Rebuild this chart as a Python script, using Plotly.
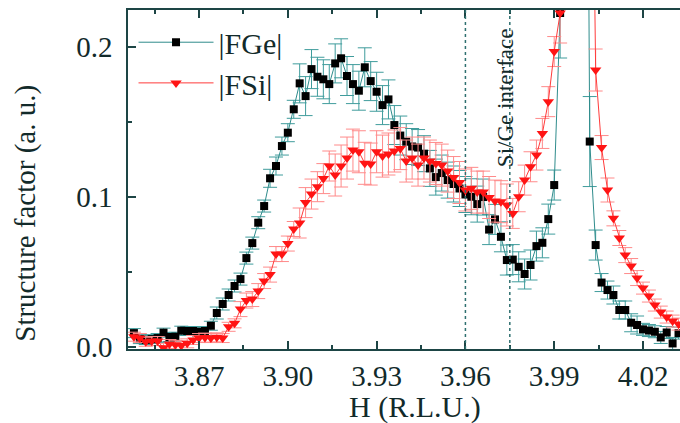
import plotly.graph_objects as go

# H (R.L.U.) sampling positions shared by both scans
H = [3.848, 3.850, 3.852, 3.854, 3.856, 3.858, 3.860, 3.862, 3.864, 3.866,
     3.868, 3.870, 3.872, 3.874, 3.876, 3.878, 3.880, 3.882, 3.884, 3.886,
     3.888, 3.890, 3.892, 3.894, 3.896, 3.898, 3.900, 3.902, 3.904, 3.906,
     3.908, 3.910, 3.912, 3.914, 3.916, 3.918, 3.920, 3.922, 3.924, 3.926,
     3.928, 3.930, 3.932, 3.934, 3.936, 3.938, 3.940, 3.942, 3.944, 3.946,
     3.948, 3.950, 3.952, 3.954, 3.956, 3.958, 3.960, 3.962, 3.964, 3.966,
     3.968, 3.970, 3.972, 3.974, 3.976, 3.978, 3.980, 3.982, 3.984, 3.986,
     3.988, 3.990, 3.992, 3.994, 3.996, 3.998, 4.000, 4.002, 4.004, 4.006,
     4.008, 4.010, 4.012, 4.014, 4.016, 4.018, 4.020, 4.022, 4.024, 4.026,
     4.028, 4.030, 4.032]

FGe = [0.0093, 0.0053, 0.0047, 0.0053, 0.0060, 0.0096, 0.0067, 0.0069, 0.0109, 0.0107,
       0.0107, 0.0102, 0.0107, 0.0142, 0.0227, 0.0287, 0.0347, 0.0407, 0.0453, 0.0593,
       0.0693, 0.0829, 0.0940, 0.1125, 0.1207, 0.1340, 0.1429, 0.1585, 0.1758, 0.1673,
       0.1853, 0.1802, 0.1785, 0.1753, 0.1891, 0.1925, 0.1807, 0.1753, 0.1709, 0.1865,
       0.1773, 0.1702, 0.1613, 0.1651, 0.1480, 0.1410, 0.1369, 0.1337, 0.1330, 0.1289,
       0.1191, 0.1133, 0.1160, 0.1113, 0.1087, 0.1057, 0.1017, 0.1002, 0.0953, 0.1000,
       0.0783, 0.0851, 0.0735, 0.0580, 0.0583, 0.0535, 0.0487, 0.0547, 0.0673, 0.0695,
       0.0853, 0.1080, 0.2227, 0.5000, 1.5000, 2.5000, 0.8000, 0.1370, 0.0680, 0.0430,
       0.0380, 0.0347, 0.0247, 0.0247, 0.0162, 0.0147, 0.0118, 0.0110, 0.0102, 0.0064,
       0.0097, 0.0024, 0.0093]

FGe_err = [0.003, 0.003, 0.003, 0.003, 0.003, 0.003, 0.003, 0.003, 0.003, 0.003,
           0.003, 0.003, 0.003, 0.003, 0.004, 0.004, 0.004, 0.004, 0.004, 0.004,
           0.004, 0.004, 0.004, 0.006, 0.006, 0.006, 0.006, 0.006, 0.013, 0.013,
           0.013, 0.013, 0.013, 0.013, 0.013, 0.013, 0.013, 0.013, 0.013, 0.013,
           0.013, 0.013, 0.013, 0.013, 0.013, 0.013, 0.012, 0.012, 0.012, 0.012,
           0.012, 0.012, 0.012, 0.012, 0.012, 0.012, 0.012, 0.012, 0.012, 0.012,
           0.010, 0.010, 0.010, 0.010, 0.010, 0.010, 0.010, 0.010, 0.010, 0.010,
           0.010, 0.010, 0.030, 0.030, 0.030, 0.030, 0.030, 0.030, 0.010, 0.006,
           0.006, 0.006, 0.006, 0.006, 0.006, 0.006, 0.004, 0.004, 0.004, 0.004,
           0.004, 0.004, 0.004]

FSi = [0.0069, 0.0060, 0.0035, 0.0040, 0.0040, -0.0005, 0.0020, 0.0015, 0.0010, 0.0025,
       0.0047, 0.0060, 0.0063, 0.0060, 0.0065, 0.0060, 0.0135, 0.0158, 0.0253, 0.0310,
       0.0320, 0.0373, 0.0440, 0.0483, 0.0620, 0.0620, 0.0690, 0.0787, 0.0827, 0.0963,
       0.1020, 0.1069, 0.1123, 0.1207, 0.1147, 0.1207, 0.1260, 0.1313, 0.1302, 0.1225,
       0.1220, 0.1302, 0.1273, 0.1287, 0.1307, 0.1323, 0.1240, 0.1260, 0.1213, 0.1260,
       0.1240, 0.1224, 0.1213, 0.1173, 0.1130, 0.1097, 0.1047, 0.1058, 0.1033, 0.1033,
       0.0997, 0.0973, 0.0969, 0.0947, 0.0891, 0.1002, 0.1113, 0.1202, 0.1280, 0.1424,
       0.1636, 0.1970, 0.2227, 0.5000, 1.2000, 2.0000, 1.2000, 0.5000, 0.1847, 0.1330,
       0.1047, 0.0858, 0.0727, 0.0613, 0.0540, 0.0460, 0.0393, 0.0340, 0.0280, 0.0233,
       0.0200, 0.0173, 0.0153]

FSi_err = [0.003, 0.003, 0.003, 0.003, 0.003, 0.003, 0.003, 0.003, 0.003, 0.003,
           0.003, 0.003, 0.003, 0.003, 0.003, 0.003, 0.003, 0.003, 0.005, 0.005,
           0.005, 0.005, 0.005, 0.005, 0.005, 0.005, 0.005, 0.005, 0.010, 0.010,
           0.010, 0.010, 0.010, 0.010, 0.014, 0.014, 0.014, 0.014, 0.014, 0.014,
           0.014, 0.014, 0.014, 0.014, 0.014, 0.014, 0.014, 0.014, 0.014, 0.014,
           0.014, 0.014, 0.014, 0.014, 0.014, 0.014, 0.014, 0.014, 0.014, 0.014,
           0.014, 0.014, 0.014, 0.014, 0.010, 0.010, 0.010, 0.010, 0.010, 0.010,
           0.010, 0.010, 0.020, 0.020, 0.020, 0.020, 0.020, 0.020, 0.014, 0.008,
           0.008, 0.005, 0.005, 0.005, 0.005, 0.005, 0.004, 0.004, 0.004, 0.004,
           0.004, 0.004, 0.004]

x_ticks = [3.87, 3.90, 3.93, 3.96, 3.99, 4.02]
x_ticktext = ["3.87", "3.90", "3.93", "3.96", "3.99", "4.02"]
x_minor = [3.855, 3.885, 3.915, 3.945, 3.975, 4.005]
y_ticks = [0.0, 0.1, 0.2]
y_ticktext = ["0.0", "0.1", "0.2"]
y_minor = [0.05, 0.15]
interface_lines = [3.960, 3.975]

FONT = "Liberation Serif"
TXT = "#122a2a"
AX = "#1d4545"
TEAL = "#2f8c8c"

fig = go.Figure()
fig.add_trace(go.Scatter(
    x=H, y=FGe, mode="lines+markers", name="|FGe|", legend="legend", showlegend=True,
    line=dict(color=TEAL, width=1),
    marker=dict(symbol="square", size=8, color="black"),
    error_y=dict(type="data", array=FGe_err, color="#3f9c9c", thickness=1, width=7),
))
fig.add_trace(go.Scatter(
    x=H, y=FSi, mode="lines+markers", name="|FSi|", legend="legend2", showlegend=True,
    line=dict(color="#ff3b3b", width=1),
    marker=dict(symbol="triangle-down", size=10, color="#ff1414"),
    error_y=dict(type="data", array=FSi_err, color="#ff8a8a", thickness=1, width=7),
))

for xv in interface_lines:
    fig.add_shape(type="line", xref="x", yref="paper", x0=xv, x1=xv, y0=0, y1=1,
                  line=dict(color="#2f7070", width=1.5, dash="dot"))

fig.add_annotation(x=3.9734, y=0.166, xref="x", yref="y", text="Si/Ge interface",
                   textangle=-90, showarrow=False,
                   font=dict(family=FONT, size=23, color=TXT))

# axis titles placed as in the reference
fig.add_annotation(x=-0.186, y=0.40, xref="paper", yref="paper",
                   text="Structure factor (a. u.)", textangle=-90, showarrow=False,
                   xanchor="center", yanchor="middle",
                   font=dict(family=FONT, size=29, color=TXT))
fig.add_annotation(x=0.52, y=-0.17, xref="paper", yref="paper",
                   text="H (R.L.U.)", showarrow=False,
                   xanchor="center", yanchor="middle",
                   font=dict(family=FONT, size=30, color=TXT))

fig.update_layout(
    width=680, height=423,
    margin=dict(l=128, r=0, t=10, b=74),
    paper_bgcolor="white", plot_bgcolor="white",
    font=dict(family=FONT, color=TXT),
    showlegend=True,
    legend=dict(x=0.01, y=0.905, xanchor="left", yanchor="middle", itemwidth=75,
                bgcolor="rgba(0,0,0,0)", font=dict(family=FONT, size=30, color=TXT)),
    legend2=dict(x=0.01, y=0.785, xanchor="left", yanchor="middle", itemwidth=75,
                 bgcolor="rgba(0,0,0,0)", font=dict(family=FONT, size=30, color=TXT)),
)
fig.update_xaxes(
    range=[3.846, 4.0325], tickvals=x_ticks, ticktext=x_ticktext,
    ticks="inside", ticklen=8, tickwidth=1.5, tickcolor=AX,
    showline=True, linecolor=AX, linewidth=1.5, mirror="ticks", showgrid=False, zeroline=False,
    minor=dict(tickvals=x_minor, ticks="inside", ticklen=4, tickwidth=1.5, tickcolor=AX),
    tickfont=dict(family=FONT, size=29, color=TXT), ticklabelstandoff=0,
)
fig.update_yaxes(
    range=[-0.0013, 0.2247], tickvals=y_ticks, ticktext=y_ticktext,
    ticks="inside", ticklen=8, tickwidth=1.5, tickcolor=AX,
    showline=True, linecolor=AX, linewidth=1.5, showgrid=False, zeroline=False,
    minor=dict(tickvals=y_minor, ticks="inside", ticklen=4, tickwidth=1.5, tickcolor=AX),
    tickfont=dict(family=FONT, size=29, color=TXT), ticklabelstandoff=8,
)

fig.write_html("out.html", config={"displayModeBar": False},
               post_script="document.body.style.margin='0';")
